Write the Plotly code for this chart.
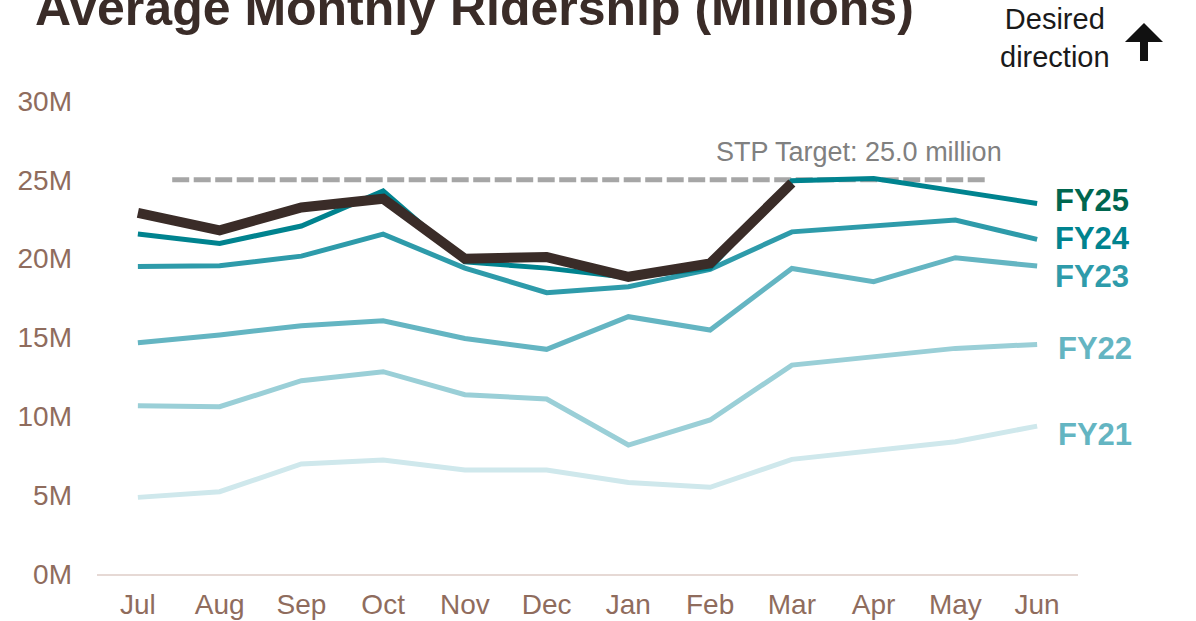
import plotly.graph_objects as go

# ---------------- data ----------------
months = ["Jul", "Aug", "Sep", "Oct", "Nov", "Dec", "Jan", "Feb", "Mar", "Apr", "May", "Jun"]

fy25 = [22.9, 21.8, 23.25, 23.8, 20.0, 20.1, 18.85, 19.7, 24.8]
fy24 = [21.56, 20.97, 22.07, 24.3, 19.8, 19.4, 18.8, 19.4, 24.94, 25.09, 24.3, 23.5]
fy23 = [19.5, 19.55, 20.16, 21.56, 19.4, 17.84, 18.22, 19.32, 21.7, 22.09, 22.45, 21.22]
fy22 = [14.67, 15.16, 15.75, 16.06, 14.94, 14.25, 16.32, 15.47, 19.38, 18.54, 20.06, 19.53]
fy21 = [10.67, 10.61, 12.26, 12.83, 11.37, 11.1, 8.18, 9.77, 13.25, 13.78, 14.31, 14.56]
fy20 = [4.86, 5.22, 6.98, 7.23, 6.6, 6.6, 5.81, 5.5, 7.27, 7.8, 8.39, 9.38]

target = 25.0
target_label = "STP Target: 25.0 million"

y_tickvals = [0, 5, 10, 15, 20, 25, 30]
y_ticktext = ["0M", "5M", "10M", "15M", "20M", "25M", "30M"]

end_labels = ["FY25", "FY24", "FY23", "FY22", "FY21"]

# ---------------- styling ----------------
FONT = "Arial, 'Liberation Sans', sans-serif"
BROWN_TXT = "#8f6c5d"
W, H = 1196, 621
ML, MR, MT, MB = 97, 118, 101, 47
PW, PH = W - ML - MR, H - MT - MB


def px2paper(px, py):
    return (px - ML) / PW, (H - MB - py) / PH


fig = go.Figure()

series = [
    (fy20, "#cfe8ec", 5),
    (fy21, "#9acfd7", 5),
    (fy22, "#64b5c2", 5),
    (fy23, "#2e9baa", 5),
    (fy24, "#00838f", 5),
    (fy25, "#3a2c28", 10),
]
names = ["FY20", "FY21", "FY22", "FY23", "FY24", "FY25"]
for (vals, col, wd), nm in zip(series, names):
    fig.add_trace(go.Scatter(
        x=months[:len(vals)], y=vals, mode="lines", name=nm,
        line=dict(color=col, width=wd), hoverinfo="skip",
    ))

# target dashed line
fig.add_shape(type="line", xref="x", yref="y", x0=0.42, x1=10.4, y0=target, y1=target,
              line=dict(color="#a6a6a6", width=5, dash="17px,4.5px"), layer="below")
fig.add_annotation(xref="x", yref="y", x=10.6, y=26.75, text=target_label, showarrow=False,
                   xanchor="right", yanchor="middle",
                   font=dict(family=FONT, size=27, color="#808080"))

# end labels
label_cols = ["#00664f", "#00838f", "#2e9baa", "#64b5c2", "#64b5c2"]
label_y = [23.67, 21.31, 18.86, 14.33, 8.82]
label_x = [11.2, 11.2, 11.2, 11.23, 11.23]
for t, c, yy, xx in zip(end_labels, label_cols, label_y, label_x):
    fig.add_annotation(xref="x", yref="y", x=xx, y=yy, text="<b>%s</b>" % t, showarrow=False,
                       xanchor="left", yanchor="middle",
                       font=dict(family=FONT, size=31, color=c))

# desired direction text
dx, dy = px2paper(1055, 38)
fig.add_annotation(xref="paper", yref="paper", x=dx, y=dy, text="Desired<br>direction",
                   showarrow=False, xanchor="center", yanchor="middle", align="center",
                   font=dict(family=FONT, size=29, color="#1a1a1a"))

# up arrow
pts = [(1144, 23), (1163, 42), (1148, 42), (1148, 61), (1140, 61), (1140, 42), (1125, 42)]
pp = [px2paper(a, b) for a, b in pts]
path = "M " + " L ".join("%.5f,%.5f" % p for p in pp) + " Z"
fig.add_shape(type="path", xref="paper", yref="paper", path=path,
              fillcolor="#111111", line=dict(width=0))

fig.update_layout(
    width=W, height=H, autosize=False,
    margin=dict(l=ML, r=MR, t=MT, b=MB),
    paper_bgcolor="white", plot_bgcolor="white",
    showlegend=False,
    font=dict(family=FONT),
    title=dict(text="<b>Average Monthly Ridership (Millions)</b>", x=35 / W, xanchor="left",
               y=1 - 7 / H, yanchor="middle", yref="container",
               font=dict(family=FONT, size=50, color="#3a2c28")),
)
fig.update_xaxes(type="category", categoryorder="array", categoryarray=months,
                 range=[-0.5, 11.5], showgrid=False, zeroline=False, automargin=False,
                 showline=True, linecolor="#e6d9d5", linewidth=2,
                 ticks="", ticklabelstandoff=4,
                 tickfont=dict(family=FONT, size=28, color=BROWN_TXT))
fig.update_yaxes(range=[0, 30], tickvals=y_tickvals, ticktext=y_ticktext, automargin=False,
                 showgrid=False, zeroline=False, showline=False, ticks="",
                 ticklabelstandoff=24,
                 tickfont=dict(family=FONT, size=28, color=BROWN_TXT))

fig.write_html(
    "out.html",
    config={"displayModeBar": False, "responsive": False, "staticPlot": True},
    post_script="document.body.style.margin='0px';document.body.style.padding='0px';"
                "document.body.style.overflow='hidden';",
)
